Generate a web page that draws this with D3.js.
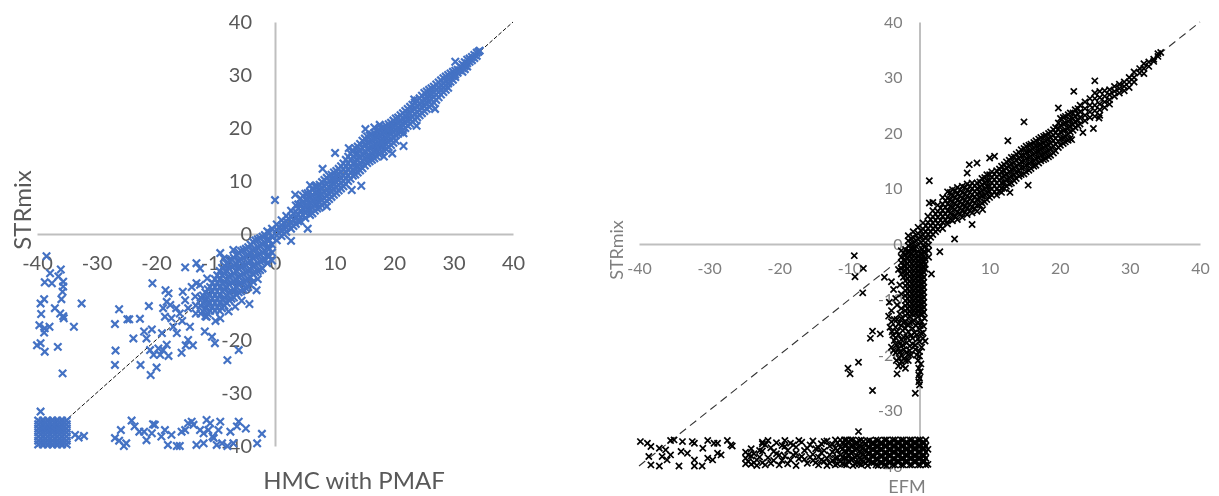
<!DOCTYPE html>
<html><head><meta charset="utf-8">
<script src="https://cdn.jsdelivr.net/npm/d3@7"></script>
<style>html,body{margin:0;padding:0;background:#fff;overflow:hidden}svg{display:block}text{font-family:Lato,"Open Sans",sans-serif}</style>
</head><body><svg width="1219" height="496"></svg>
<script>
const tickValues=[-40,-30,-20,-10,0,10,20,30,40];
const leftXTitle="HMC with PMAF", rightXTitle="EFM", yTitle="STRmix";

// HMC panel
const hmcBlockCols=[
[-39.8,[-35.2,-35.9,-36.7,-37.4,-38.2,-39,-39.7]],[-39,[-35.2,-35.9,-36.7,-37.4,-38.2,-39,-39.7]],
[-38.2,[-35.2,-35.9,-36.7,-37.4,-38.2,-39,-39.7]],[-37.4,[-35.2,-35.9,-36.7,-37.4,-38.2,-39,-39.7]],
[-36.6,[-35.2,-35.9,-36.7,-37.4,-38.2,-39,-39.7]],[-35.8,[-35.2,-35.9,-36.7,-37.4,-38.2,-39,-39.7]],
[-35,[-35.2,-35.9,-36.7,-37.4,-38.2,-39,-39.7]],
[-39.4,[-35.5,-36.3,-37,-37.8,-38.6,-39.4]],[-38.6,[-35.5,-36.3,-37,-37.8,-38.6,-39.4]],[-37.8,[-35.5,-36.3,-37,-37.8,-38.6,-39.4]],
[-37,[-35.5,-36.3,-37,-37.8,-38.6,-39.4]],[-36.2,[-35.5,-36.3,-37,-37.8,-38.6,-39.4]],[-35.4,[-35.5,-36.3,-37,-37.8,-38.6,-39.4]]];
const hmcPosCols=[
[0.3,[1.8,0.8,-0.3,-1.2]],[1.1,[2.6,1.6,0.6,-0.4]],[1.9,[3.4,2.4,1.2,0.4]],[2.7,[4.4,3.3,2.2,1]],[3.5,[5.4,4.2,3,1.9]],
[4.3,[6.7,5.6,4.4,3.2,2.4]],[5.1,[7.6,6.5,5.2,4,3]],[5.9,[7.9,7,5.9,4.7,3.6]],[6.7,[9,7.8,6.6,5.5,4.4]],[7.5,[9.3,8.2,7.2,6,5]],
[8.3,[10.2,9,7.9,6.8,5.8]],[9.1,[11,10,8.8,7.6,6.6]],[9.9,[11.6,10.6,9.5,8.4,7.4]],[10.7,[12.3,11.2,10.2,9.2,8.2]],[11.5,[13.3,12.2,11,10,9]],
[12.3,[14.6,13.4,12.2,11,10]],[13.1,[15.8,14.6,13.3,12,11]],[13.9,[16.5,15.3,14,12.8,11.6]],[14.7,[17.6,16.2,15,13.8,12.4]],[15.5,[18.4,17.2,16,14.6,13.4]],
[16.3,[18.8,17.6,16.4,15.2,14]],[17.1,[19.4,18.2,17,15.8,14.6]],[17.9,[20,18.8,17.6,16.4,15.4]],[18.7,[20.4,19.4,18.2,17,16]],[19.5,[21,20,18.9,17.8,16.8]],
[20.3,[21.8,20.6,19.6,18.6,17.6]],[21.1,[22.4,21.4,20.3,19.2]],[21.9,[23.2,22.2,21,20]],[22.7,[24,22.8,21.7,20.8]],[23.5,[24.8,23.6,22.6,21.6]],
[24.3,[25.6,24.6,23.4,22.4]],[25.1,[26.6,25.4,24.2,23.2]],[25.9,[27.2,26.2,25,24]],[26.7,[27.8,26.8,25.8,24.8]],[27.5,[28.6,27.6,26.8,25.8]],
[28.3,[29.4,28.4,27.6,26.8]],[29.1,[30,29.2,28.4,27.6]],[29.9,[30.6,29.8,29.1]],[30.7,[31,30.4]],[31.5,[32,31.3,30.6]],[32.3,[32.9,32.2,31.6]],
[33.1,[33.4,32.8]],[33.9,[34.2,33.6]],[34.4,[34.6]]];
const hmcPosFillCols=[
[0.7,[1.3,0.2]],[1.5,[2.1,1,0]],[2.3,[2.9,1.8]],[3.1,[3.9,2.7,1.5]],[3.9,[5.6,4.8,3.6,2.4]],[4.7,[7.2,6,4.8,3.6]],[5.5,[7.7,6.6,5.5,4.4]],[6.3,[8.4,7.3,6.2,5,3.9]],[7.1,[9,8,6.9,5.7,4.8]],[7.9,[9.8,8.6,7.5,6.4,5.4]],[8.7,[10.6,9.4,8.4,7.2,6.2]],[9.5,[11.2,10.3,9.1,8,7]],[10.3,[11.9,10.9,9.8,8.8,7.8]],[11.1,[12.8,11.6,10.6,9.6,8.6]],[11.9,[14,12.8,11.6,10.5,9.4]],[12.7,[15.2,14,12.7,11.6,10.4]],[13.5,[16.2,15,13.6,12.4,11.2]],[14.3,[17,15.8,14.5,13.3,12]],[15.1,[18,16.7,15.5,14.2,12.9]],[15.9,[18.6,17.4,16.2,14.9,13.7]],[16.7,[19.1,17.9,16.7,15.5,14.3]],[17.5,[19.7,18.5,17.3,16.1,15]],[18.3,[20.2,19.1,17.9,16.7,15.7]],[19.1,[20.7,19.7,18.5,17.4,16.4]],[19.9,[21.4,20.3,19.2,18.2,17.2]],[20.7,[22,21,19.9,18.9]],[21.5,[22.8,21.8,20.6,19.6]],[22.3,[23.6,22.5,21.4,20.4]],[23.1,[24.4,23.2,22.1,21.2]],[23.9,[25.2,24.1,23,22]],[24.7,[26.1,25,23.8,22.8]],[25.5,[26.9,25.8,24.6,23.6]],[26.3,[27.5,26.5,25.4,24.4]],[27.1,[28.2,27.2,26.3,25.3]],[27.9,[29,28,27.2,26.3]],[28.7,[29.7,28.8,28,27.2]],[29.5,[30.3,29.5,28.7]],[30.3,[30.8,30.1,29.6]],[31.1,[31.6,30.9]],[31.9,[32.4,31.7,31.1]],[32.7,[33.1,32.5]],[33.5,[33.8,33.2]]];
const hmcNegCols=[
[-0.5,[1,-0.5,-2,-3.5,-5]],[-1.3,[0.5,-1,-2.5,-4,-5.5]],[-2.1,[-0.5,-2,-3.5,-5,-6.5]],[-2.9,[-1,-2.5,-4,-5.5,-7,-8.5]],
[-3.7,[-1.5,-3,-4.5,-6,-7.5,-9]],[-4.5,[-2.5,-4,-5.5,-7,-8.5,-10]],[-5.3,[-3,-4.5,-6,-7.5,-9,-10.5]],[-6.1,[-3.5,-5,-6.5,-8,-9.5,-11]],
[-6.9,[-4.5,-6,-7.5,-9,-10.5,-12]],[-7.7,[-5,-6.5,-8,-9.5,-11,-12.5]],[-8.5,[-6,-7.5,-9,-10.5,-12,-13.5]],[-9.3,[-7,-8.5,-10,-11.5,-13,-14.5]],
[-10.1,[-8.5,-10,-11.5,-13,-14.5]],[-10.9,[-10,-11.5,-13,-14.5]],[-11.7,[-11,-12.5,-14,-15.5]],[-12.5,[-12,-13.5,-15]],[-13.3,[-13.5,-15]]];
const hmcNegFillCols=[
[-0.9,[0.2,-1.2,-2.8,-4.2]],[-1.7,[-0.2,-1.6,-3.2,-4.8]],[-2.5,[-0.8,-2.2,-3.8,-5.2,-6.8]],[-3.3,[-1.2,-2.8,-4.2,-5.8,-7.2]],[-4.1,[-2,-3.6,-5.2,-6.8,-8.2,-9.6]],[-4.9,[-2.8,-4.2,-5.8,-7.2,-8.8,-10.2]],[-5.7,[-3.2,-4.8,-6.2,-7.8,-9.2,-10.8]],[-6.5,[-4,-5.6,-7,-8.6,-10,-11.4]],[-7.3,[-4.8,-6.2,-7.8,-9.2,-10.8,-12.2]],[-8.1,[-5.6,-7,-8.6,-10,-11.6,-13]],[-8.9,[-6.4,-7.8,-9.4,-10.8,-12.4,-14]],[-9.7,[-7.8,-9.2,-10.8,-12.2,-13.8]],[-10.5,[-9.2,-10.8,-12.2,-13.8]],[-11.3,[-10.4,-12,-13.4,-15]],[-12.1,[-11.6,-13,-14.6]]];
const hmcOutliers=[
[-38.4,-4.2],[-37.8,-7.4],[-36,-6.7],[-38.7,-9.1],[-37.5,-9.3],[-36.4,-8],[-35.6,-9],[-35.6,-9.9],[-35.7,-10.9],[-35.9,-12.3],[-38.8,-12.3],[-39.4,-13.1],[-32.5,-13.1],[-37,-14],[-39.3,-15.1],[-36.1,-15],[-35.5,-15.9],[-35.6,-15.5],[-39.6,-17.2],[-37.9,-17.5],[-38.7,-17.8],[-38.8,-18.6],[-33.8,-17.5],[-40,-21],[-39.4,-20.6],[-38.7,-22.2],[-36.5,-21.3],[-35.7,-26.3],[-39.4,-33.5],[-33.6,-37.9],[-33,-38.4],[-32.1,-38.1],
[-26.9,-17],[-26.2,-14.2],[-24.8,-16.1],[-24.5,-16.1],[-22.7,-16],[-21.2,-13.6],[-20.6,-9.3],[-23.8,-19.7],[-26.8,-22],[-26.9,-24.7],[-22.6,-24.7],[-19.9,-25.2],[-20.9,-26.6],[-22,-18.4],[-21.6,-19.7],[-20.7,-18],[-21,-21.9],[-20.4,-22.8],[-19.6,-21.6],[-19.3,-22.8],[-18.8,-21.9],[-18.2,-20.9],[-17.9,-23],[-19,-18.7],[-18.4,-10.6],[-17.9,-11.2],[-18.8,-14],[-18.2,-12.8],[-17.6,-13.4],[-18.5,-15.6],[-17.4,-15.9],[-17.1,-17.5],[-16.5,-18.7],[-15.5,-10.9],[-15.1,-12.5],[-14.6,-14],[-14.3,-17.5],[-15.7,-22.4],[-15,-21],[-14.6,-20],[-13.8,-21],[-15.1,-6.3],[-13.2,-5.5],[-12.6,-6.5],[-14,-10],[-13.2,-9.3],[-11.8,-18.4],[-10.6,-19.4],[-10.1,-20.6],[-8,-23.8],[-6.1,-21.9],[-9.2,-3.6],[-7,-3],[-3.1,-10.6],[-4.3,-13.2],[-6.7,-13.7],[-9.2,-15.9],[-11.5,-15.6],[-16,-15],[-16.6,-14],[-15.6,-16.4],[-13.4,-11.8],[-12.6,-9.6],[-11.4,-8.4],[-8.6,-4.6],[-5.6,-12.6],[-7.8,-14.6],[-10,-16.4],
[0,6.4],[2.7,-1.3],[5.5,1],[8,12.3],[10.1,15.3],[15.2,19.8],[16.7,20.1],[17.6,20.6],[12.4,16.2],[12.9,8.3],[14.5,9.1],[21.6,16.6],[23.8,20.4],[26.9,23.6],[30.3,32.5],[23.4,25.4],[19.7,15.2],[18.3,14.6],[8.7,5.2],[3.4,7.4],[5.9,9.2],[34.2,34.4],[21.6,19]];
const hmcBottom=[
[-26.9,-38.5],[-25.9,-37],[-26.2,-39],[-25.4,-40],[-25,-39.5],[-24.1,-35.2],[-23.6,-36.3],[-22.8,-37.3],[-22,-37.3],[-21.6,-38.9],[-20.7,-37.6],[-20.5,-35.9],[-20.2,-36],[-19.1,-38.2],[-18.5,-37],[-17.4,-37.9],[-18,-39.8],[-16.5,-40],[-16,-40],[-15.7,-37.3],[-15.1,-37],[-14.6,-35.7],[-14,-35.4],[-13.7,-36],[-13.2,-39.8],[-12.6,-37],[-12,-39.5],[-11.5,-35.1],[-11.2,-37],[-10.9,-35.7],[-10.3,-38.5],[-9.8,-39.8],[-9.5,-37],[-9.2,-35.4],[-7.5,-37.3],[-7,-39.5],[-6.1,-35.4],[-6.4,-36.3],[-4.9,-36.7],[-3,-39.5],[-2.2,-37.7],[-12,-37.6],[-10.5,-38.2],[-8.9,-39.5],[-8,-40]];

// EFM panel
const efmPosCols=[
[-1.6,[1.5,0.6,-0.3,-1.2]],[-0.9,[2.2,1.2,0.2,-0.8]],[-0.2,[3,1.9,0.9,-0.2]],[0.5,[3.8,2.7,1.6,0.6,-0.3]],[1.2,[5,3.9,2.8,1.8,0.7]],[1.9,[6,4.9,3.8,2.8,1.7]],[2.6,[7,5.9,4.8,3.7,2.6]],[3.3,[8.4,7.2,6.1,5,3.9,2.8]],[4,[9.4,8.3,7.2,6,4.9,3.6]],[4.7,[9.8,8.7,7.6,6.5,5.3,4.2]],[5.4,[10.2,9,7.9,6.8,5.7,4.4]],[6.1,[10.4,9.3,8.2,7.1,6,4.8]],[6.8,[10.8,9.7,8.6,7.5,6.4,5.3]],[7.5,[11,10,8.9,7.8,6.7,5.6]],[8.2,[11,10,9,8,7,5.9]],[8.9,[11.8,10.7,9.6,8.6,7.4]],[9.6,[12.5,11.4,10.4,9.2,8]],[10.3,[13,12,11,9.9,8.8]],[11,[13.2,12.1,11,9.9,8.8]],[11.7,[14,13,12,11,10,9.3]],[12.4,[14.8,13.7,12.6,11.6,10.4]],[13.1,[15.6,14.4,13.4,12.2,11]],[13.8,[16.2,15.1,14,12.9,11.8]],[14.5,[17,15.9,14.8,13.7,12.5]],[15.2,[17.6,16.5,15.4,14.2,13]],[15.9,[18,16.9,15.8,14.8,13.6]],[16.6,[18.6,17.6,16.5,15.4,14.2]],[17.3,[19.2,18,17,16,15]],[18,[19.6,18.6,17.6,16.5,15.4]],[18.7,[20.2,19.2,18.2,17.2,16]],[19.4,[21,20,19,18,16.8]],[20.1,[22.6,21.4,20.2,19,17.8]],[20.8,[23,21.8,20.6,19.4,18.4]],[21.5,[23.6,22.4,21.2,20.2,19]],[22.2,[24.2,23,22,21]],[22.9,[25,23.8,22.7,21.6]],[23.6,[25.6,24.4,23.2,22.2]],[24.3,[26.2,25,23.8,22.8]],[25,[27.2,26.2,25,24,23]],[25.7,[27.5,26.4,25.2,24.2,23.2]],[26.4,[27.6,26.6,25.6,24.6]],[27.1,[27.8,26.9,26,25.2]],[27.8,[28.4,27.5,26.6]],[28.5,[28.8,28,27.2]],[29.2,[29.2,28.4,27.6]],[29.9,[30,29.2,28.2]],[30.6,[31,30,29.2]],[31.4,[31.6,30.8]],[32,[32.5,31.6,30.7]],[32.7,[32.8,32]],[33.4,[33.3,32.9]],[34,[34.3,33.8]],[34.4,[34.5]]];
const efmPosFillCols=[
[-1.2,[1,0,-0.8]],[-0.5,[1.6,0.6,-0.4]],[0.2,[2.4,1.4,0.3]],[0.9,[3.3,2.2,1.1]],[1.6,[4.4,3.3,2.2,1.2]],[2.3,[5.4,4.3,3.2,2.2]],[3,[6.5,5.4,4.3,3.2]],[3.7,[7.8,6.6,5.4,4.3]],[4.4,[9.3,8,6.8,5.6,4.5]],[5.1,[9.6,8.4,7.3,6.2,5]],[5.8,[9.8,8.7,7.6,6.5,5.4]],[6.5,[10.2,9,7.9,6.8,5.7]],[7.2,[10.4,9.3,8.2,7.1,6]],[7.9,[10.5,9.5,8.5,7.4,6.4]],[8.6,[11.2,10.3,9.3,8.3,7]],[9.3,[12,11,9.9,8.8,7.6]],[10,[12.5,11.5,10.4,9.5,8.4]],[10.7,[12.6,11.6,10.5,9.4]],[11.4,[13.5,12.5,11.5,10.5,9.6]],[12.1,[14.3,13.2,12.2,11.1,10]],[12.8,[15.1,14,13,11.8,10.8]],[13.5,[15.7,14.7,13.6,12.5,11.4]],[14.2,[16.5,15.4,14.4,13.2,12.2]],[14.9,[17.2,16,15,13.8,12.6]],[15.6,[17.8,16.7,15.6,14.5,13.3]],[16.3,[18.3,17.3,16.2,15,14]],[17,[18.9,17.8,16.7,15.6,14.6]],[17.7,[19.4,18.3,17.3,16.2,15.2]],[18.4,[19.9,18.9,17.9,16.8,15.7]],[19.1,[20.6,19.6,18.6,17.6,16.4]],[19.8,[21.8,20.7,19.6,18.5,17.4]],[20.5,[22.8,21.6,20.4,19.2,18.1]],[21.2,[23.3,22.1,20.9,19.8,18.7]],[21.9,[23.6,22.6,21.5,20.5]],[22.6,[24.4,23.4,22.3,21.3]]];
const efmColumnCols=[
[-2.6,[-1.2,-2.4,-3.4,-4.4,-5.4]],[-2,[-1,-2,-3,-3.9,-4.8,-5.7,-6.6,-7.5,-8.4,-9.3,-10.2,-11.1,-12,-12.9]],
[-1.4,[-1.4,-2.3,-3.2,-4.1,-5,-5.9,-6.8,-7.7,-8.6,-9.5,-10.4,-11.3,-12.2,-13.1]],[-0.8,[-1.1,-2,-2.9,-3.8,-4.7,-5.6,-6.5,-7.4,-8.3,-9.2,-10.1,-11,-11.9,-12.8]],
[-0.2,[-1.4,-2.3,-3.2,-4.1,-5,-5.9,-6.8,-7.7,-8.6,-9.5,-10.4,-11.3,-12.2,-13.1]],[0.4,[-1,-1.9,-2.8,-3.7,-4.6,-5.5,-6.4,-7.3,-8.2,-9.1,-10,-10.9,-11.8,-12.7]],
[0.8,[-0.4,-1.5,-2.6,-3.7,-4.5]],[1.3,[-0.2,-1.2,-2.4]],
[-2.3,[-1.6,-2.9,-3.9,-4.9,-6]],[-1.7,[-1.5,-2.5,-3.5,-4.4,-5.3,-6.2,-7.1,-8,-8.9,-9.8,-10.7,-11.6,-12.5]],[-1.1,[-1.8,-2.7,-3.6,-4.5,-5.4,-6.3,-7.2,-8.1,-9,-9.9,-10.8,-11.7,-12.6]],[-0.5,[-1.6,-2.5,-3.4,-4.3,-5.2,-6.1,-7,-7.9,-8.8,-9.7,-10.6,-11.5,-12.4]],[0.1,[-1.8,-2.7,-3.6,-4.5,-5.4,-6.3,-7.2,-8.1,-9,-9.9,-10.8,-11.7,-12.6]],[0.6,[-1.4,-2.2,-3.2,-4.2,-5.1,-6,-6.9,-7.8,-8.7,-9.6,-10.5,-11.4,-12.3]]];
const efmLowerScatter=[
[-4.4,-13],[-4,-14],[-3.2,-13.6],[-2.6,-13.4],[-2,-13.9],[-1.4,-14.2],[-0.8,-13.8],[-0.2,-14.1],[0.3,-14],[-4.2,-15],[-3.4,-15],[-2.6,-14.7],[-2,-15.2],[-1,-15.2],[0,-15.3],[-3.8,-16.4],[-3,-16.4],[-2.2,-16.8],[-1.2,-16.5],[-0.4,-16.4],[0.5,-16],[-3.6,-17.4],[-2.8,-18],[-1.8,-17.8],[-1,-18],[0,-17.6],[0.8,-17.5],[-4,-18.6],[-3,-18.8],[-2.2,-19],[-1.4,-19.2],[-0.6,-19],[0,-19.4],[-3.4,-19.6],[-2.6,-20],[-1.6,-20],[-3.3,-21],[-2.6,-21.2],[-2,-21],[0,-20.2],[-0.2,-21],[0.2,-21.6],[-2,-22.4],[-3.2,-23.4],[-0.1,-22.4],[0.1,-23],[-0.1,-23.6],[0,-24.2],[-0.1,-24.8],[-0.6,-26.9],
[-3.6,-13.6],[-3,-14.4],[-2.3,-14.2],[-1.7,-14.6],[-1.1,-14],[-0.5,-14.7],[0.1,-14.7],[0.6,-14.8],[-3.9,-15.8],[-3.2,-15.8],[-2.4,-15.6],[-1.6,-15.8],[-0.7,-16],[0.2,-16.1],[-3.4,-16.9],[-2.6,-17.2],[-1.8,-16.8],[-1,-17],[-0.2,-17.1],[0.5,-17],[-3.3,-18.2],[-2.4,-18.2],[-1.4,-18.4],[-0.6,-18.2],[0.3,-18.6],[-3.7,-19.2],[-2.8,-19.4],[-1.9,-19.6],[-1.2,-20],[-0.4,-20],[-2.9,-20.6],[-2.2,-20.6],[-1.6,-21],[-3,-22],[-2.4,-22],[0,-25.4],
[-6.7,-26.4],[-10.2,-22.4],[-9.9,-23.4],[-8.7,-21.3],[-9.3,-2.1],[-8,-4.4],[-9.2,-5.9],[-8.1,-8.8],[-5,-6],[-4,-6.8],[-3.7,-8.2],[-6.7,-15.7],[-7,-17],[-5.6,-16.2],[1.7,-5.4],[0.7,-13.4],[-4.3,-10.5],[-4,-12],[-3.4,-9.8],[-3.2,-11],[-3,-4.6],[-2.8,-7.4],[-2.6,-9],[-2.6,-11.6],[-2.8,-12.6],[-8.7,-33.8],
[1.4,11.4],[7.1,14.3],[8.2,14.6],[6.8,12.8],[14.9,22],[12.6,18.6],[22,27.5],[25,29.4],[19.8,24.5],[23.3,20.1],[24.8,20.8],[25.6,22.7],[15.5,10.6],[12.9,9.3],[7.5,3.5],[5,0.9],[2.9,-1.4],[1.4,7.4],[1.9,7.5],[9,6.2],[21.7,18.8],[10,15.5],[10.7,15.8]];
const efmBottomSparse=[
[-39.8,-35.6],[-38.8,-35.9],[-38.3,-36.5],[-38.6,-38.3],[-38.3,-39.8],[-37.1,-36.8],[-37.1,-40],[-36.7,-38.3],[-36.2,-37.1],[-36,-38.9],[-35.5,-35.4],[-35,-35.3],[-35.5,-38],[-34.3,-40],[-33.8,-35.6],[-34,-37.4],[-33.1,-37.7],[-32.4,-35.6],[-32.1,-35.9],[-32.1,-38.9],[-32.1,-40],[-30.9,-36.8],[-31,-40],[-30.2,-35.4],[-29.3,-35.9],[-30.2,-38.6],[-29.5,-38.9],[-28.8,-37.7],[-28.3,-38],[-28.8,-35.9],[-27.4,-35.4],[-26.9,-36.2],[-26.7,-36.4]];
const efmBottomCols=[
[-24.8,[-37.5,-38.6,-39.6]],[-24,[-36.9,-38.2,-39.7]],[-23.2,[-38.9,-39.9]],[-22.4,[-35.7,-36,-37.3,-39.4]],[-21.6,[-35.4,-38.5]],[-20.8,[-37.4,-39]],[-20,[-38,-39.8]],[-19.2,[-35.4,-36.5,-38.2]],[-18.4,[-35.9,-38.9]],[-17.6,[-36.6,-37.7,-39.9]],[-16.8,[-35.7,-38.3]],[-16,[-36.8,-39.5]],[-15.2,[-35.5,-37.9,-39]],[-14.4,[-36.7,-38.4,-39.8]],[-13.6,[-35.6,-37.2,-39.2]],[-12.8,[-36.4,-38,-39.5]],[-12,[-35.3,-36.8,-38.6,-39.8]],
[-11.3,[-35.3,-36.6,-38,-39.2]],[-10.7,[-35.3,-36.3,-37.4,-38.6,-39.7]],[-10.1,[-35.6,-36.9,-38.1,-39.2]],[-9.5,[-35.3,-36.4,-37.5,-38.7,-39.9]],[-8.9,[-35.8,-36.9,-38.2,-39.4]],[-8.3,[-35.3,-36.5,-37.6,-38.8,-39.8]],[-7.7,[-36,-37.2,-38.3,-39.5]],[-7.1,[-35.4,-36.6,-37.7,-38.9]],[-6.5,[-35.9,-37,-38.2,-39.4]],[-5.9,[-35.4,-36.5,-37.6,-38.8,-39.9]],[-5.3,[-35.9,-37,-38.2,-39.4]],[-4.7,[-35.3,-36.4,-37.6,-38.8,-39.9]],[-4.1,[-35.9,-37,-38.1,-39.3]],[-3.5,[-35.3,-36.4,-37.5,-38.7,-39.8]],[-2.9,[-35.8,-36.9,-38,-39.2]],[-2.3,[-35.3,-36.4,-37.5,-38.6,-39.8]],[-1.7,[-35.8,-36.9,-38.1,-39.2]],[-1.1,[-35.3,-36.4,-37.5,-38.6,-39.8]],[-0.5,[-35.8,-36.9,-38.1,-39.2]],[0.1,[-35.3,-36.4,-37.5,-38.6,-39.8]],[0.7,[-35.8,-36.9,-38.1,-39.2]],[1.2,[-37,-39.7]]];
const efmBottomFillCols=[
[-24.4,[-38,-39.2]],[-23.6,[-37.8,-39.4]],[-22.8,[-37.2,-38.4]],[-22,[-36.2,-39.8]],[-21.2,[-36.7,-39.5]],[-20.4,[-35.8,-37.8]],[-19.6,[-36.3,-39]],[-18.8,[-37.2,-39.6]],[-18,[-36.2,-38]],[-17.2,[-35.4,-38.7]],[-16.4,[-37.2,-38.8]],[-15.6,[-36.2,-38.4]],[-14.8,[-36.9,-39.4]],[-14,[-36,-37.6,-38.9]],[-13.2,[-35.5,-38.6,-39.9]],[-12.4,[-36.1,-37.5,-39]],[-11.7,[-35.8,-37.2,-38.5,-39.6]],
[-11,[-35.8,-37,-38.4,-39.6]],[-10.4,[-35.3,-36.2,-37.5,-38.6,-39.8]],[-9.8,[-35.3,-36.4,-37.6,-38.8]],[-9.2,[-36,-37.1,-38.4,-39.6]],[-8.6,[-35.4,-36.4,-37.4,-38.5,-39.6]],[-8,[-35.6,-36.8,-38,-39.2]],[-7.4,[-35.5,-36.6,-37.8,-39,-39.9]],[-6.8,[-35.9,-37,-38.2,-39.4]],[-6.2,[-35.3,-36.4,-37.5,-38.7,-39.8]],[-5.6,[-35.9,-37,-38.2,-39.4]],[-5,[-35.3,-36.4,-37.6,-38.7,-39.8]],[-4.4,[-35.8,-37,-38.1,-39.3]],[-3.8,[-35.3,-36.4,-37.5,-38.7,-39.8]],[-3.2,[-35.8,-37,-38.1,-39.2]],[-2.6,[-35.3,-36.4,-37.5,-38.7,-39.8]],[-2,[-35.8,-37,-38,-39.2]],[-1.4,[-35.3,-36.4,-37.5,-38.6,-39.8]],[-0.8,[-35.8,-36.9,-38.1,-39.2]],[-0.2,[-35.3,-36.4,-37.5,-38.6,-39.8]],[0.4,[-35.8,-36.9,-38.1,-39.2]],[0.9,[-35.3,-36.4,-37.5,-38.6,-39.8]]];

const expand=cols=>cols.flatMap(([x,ys])=>ys.map(y=>[x,y]));
const svg=d3.select("svg");
const crossPath=h=>`M${-h},${-h}L${h},${h}M${-h},${h}L${h},${-h}`;

function panel(cfg){
  const x=d3.scaleLinear().domain([-40,40]).range(cfg.xr);
  const y=d3.scaleLinear().domain([-40,40]).range(cfg.yr);
  const g=svg.append("g").style("filter",`blur(${cfg.blur}px)`);
  const fmt=d=>String(d);
  const ax=g.append("g").attr("transform",`translate(0,${y(0)})`)
    .call(d3.axisBottom(x).tickValues(tickValues).tickFormat(fmt).tickSize(0).tickPadding(cfg.xPad));
  const ay=g.append("g").attr("transform",`translate(${x(0)},0)`)
    .call(d3.axisLeft(y).tickValues(tickValues).tickFormat(fmt).tickSize(0).tickPadding(cfg.yPad));
  [ax,ay].forEach(a=>{
    a.select(".domain").attr("stroke","#bfbfbf").attr("stroke-width",cfg.axisW);
    a.selectAll("text").attr("font-family",'Lato,"Open Sans",sans-serif').attr("font-size",cfg.tickSize).attr("fill",cfg.tickColor);
  });
  g.append("line").attr("x1",x(-40)).attr("y1",y(-40)).attr("x2",x(40)).attr("y2",y(40))
    .attr("stroke",cfg.lineColor).attr("stroke-width",cfg.lineW).attr("stroke-dasharray",cfg.dash);
  g.append("g").selectAll("path").data(cfg.points).join("path")
    .attr("transform",d=>`translate(${x(d[0])},${y(d[1])})`)
    .attr("d",crossPath(cfg.mh)).attr("fill","none").attr("stroke",cfg.color).attr("stroke-width",cfg.mw);
  g.append("text").attr("x",cfg.xt[0]).attr("y",cfg.xt[1]).attr("text-anchor","middle").attr("font-size",cfg.xtSize).attr("fill",cfg.tickColor).text(cfg.xTitle);
  g.append("text").attr("transform",`translate(${cfg.yt[0]},${cfg.yt[1]}) rotate(-90)`).attr("text-anchor","middle").attr("font-size",cfg.ytSize).attr("fill",cfg.tickColor).text(yTitle);
}

panel({xr:[37,513],yr:[446,22],blur:0.3,xPad:22,yPad:23,axisW:2,tickSize:20,tickColor:"#595959",
  lineColor:"#111",lineW:1,dash:"4,2",color:"#4472c4",mh:3.7,mw:2.2,
  points:[...expand(hmcBlockCols),...hmcBottom,...hmcOutliers,...expand(hmcNegCols),...expand(hmcNegFillCols),...expand(hmcPosCols),...expand(hmcPosFillCols)],
  xTitle:leftXTitle,xt:[354,489],xtSize:24,yt:[31,210],ytSize:24});
panel({xr:[639,1200],yr:[466,22],blur:0.4,xPad:19,yPad:17,axisW:2,tickSize:16,tickColor:"#7f7f7f",
  lineColor:"#333",lineW:1.1,dash:"8,5",color:"#000",mh:3.1,mw:1.7,
  points:[...efmBottomSparse,...expand(efmBottomCols),...expand(efmBottomFillCols),...efmLowerScatter,...expand(efmColumnCols),...expand(efmPosCols),...expand(efmPosFillCols)],
  xTitle:rightXTitle,xt:[907,493],xtSize:18,yt:[623,250],ytSize:18});
</script></body></html>
